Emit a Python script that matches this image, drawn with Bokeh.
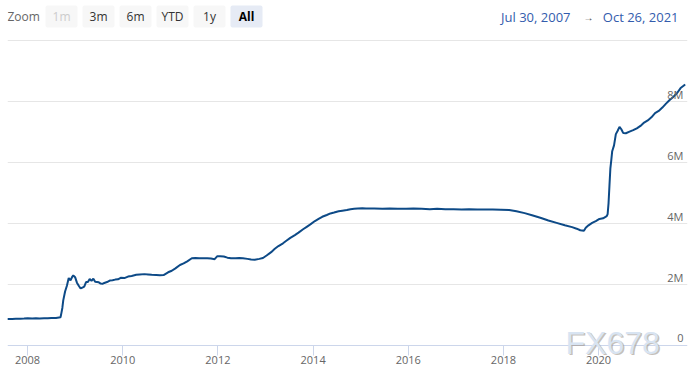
import pandas as pd
from bokeh.plotting import figure
from bokeh.models import Range1d, FixedTicker, DatetimeTickFormatter, Label, BoxAnnotation, ColumnDataSource
from bokeh.embed import file_html
from bokeh.resources import INLINE
from bokeh.core.properties import value

# ---------------- data (Fed balance sheet, millions USD) ----------------
dates = [
    "2007-07-30", "2007-09-05", "2007-10-03", "2007-11-07", "2007-12-05",
    "2008-01-02", "2008-02-06", "2008-03-05", "2008-04-02", "2008-05-07", "2008-06-04",
    "2008-07-02", "2008-08-06", "2008-09-10", "2008-09-17", "2008-09-24", "2008-10-01",
    "2008-10-15", "2008-10-29", "2008-11-12", "2008-11-26", "2008-12-10", "2008-12-17",
    "2008-12-31", "2009-01-14", "2009-01-28", "2009-02-11", "2009-02-25", "2009-03-11",
    "2009-03-25", "2009-04-08", "2009-04-22", "2009-05-06", "2009-05-20", "2009-06-03",
    "2009-06-17", "2009-07-01", "2009-07-15", "2009-07-29", "2009-08-12", "2009-09-02",
    "2009-09-23", "2009-10-14", "2009-11-04", "2009-11-25", "2009-12-16",
    "2010-01-13", "2010-02-10", "2010-03-10", "2010-04-14", "2010-05-12", "2010-06-16",
    "2010-07-14", "2010-08-11", "2010-09-15", "2010-10-13", "2010-11-10", "2010-12-15",
    "2011-01-12", "2011-02-09", "2011-03-16", "2011-04-13", "2011-05-11", "2011-06-15",
    "2011-07-13", "2011-08-10", "2011-09-14", "2011-10-12", "2011-11-09", "2011-12-07",
    "2011-12-28", "2012-01-18", "2012-02-15", "2012-03-14", "2012-04-11", "2012-05-16",
    "2012-06-13", "2012-07-11", "2012-08-15", "2012-09-12", "2012-10-10", "2012-11-14",
    "2012-12-12", "2013-01-09", "2013-02-13", "2013-03-13", "2013-04-10", "2013-05-15",
    "2013-06-12", "2013-07-10", "2013-08-14", "2013-09-11", "2013-10-16", "2013-11-13",
    "2013-12-11", "2014-01-15", "2014-02-12", "2014-03-12", "2014-04-16", "2014-05-14",
    "2014-06-11", "2014-07-16", "2014-08-13", "2014-09-17", "2014-10-15", "2014-11-12",
    "2014-12-10", "2015-01-14", "2015-02-11", "2015-04-15", "2015-06-17", "2015-08-12",
    "2015-10-14", "2015-12-16", "2016-02-10", "2016-04-13", "2016-06-15", "2016-08-10",
    "2016-10-12", "2016-12-14", "2017-02-15", "2017-04-12", "2017-06-14", "2017-08-16",
    "2017-10-11", "2017-12-13", "2018-02-14", "2018-04-11", "2018-06-13", "2018-08-15",
    "2018-10-17", "2018-12-12", "2019-02-13", "2019-04-17", "2019-06-12", "2019-07-17",
    "2019-08-14", "2019-09-11", "2019-09-25", "2019-10-16", "2019-11-13", "2019-12-11",
    "2020-01-08", "2020-02-05", "2020-03-04", "2020-03-11", "2020-03-18", "2020-03-25",
    "2020-04-01", "2020-04-08", "2020-04-15", "2020-04-29", "2020-05-13", "2020-05-27",
    "2020-06-10", "2020-06-24", "2020-07-08", "2020-07-29", "2020-08-26", "2020-09-23",
    "2020-10-21", "2020-11-18", "2020-12-16", "2021-01-13", "2021-02-10", "2021-03-10",
    "2021-04-07", "2021-05-05", "2021-06-02", "2021-06-30", "2021-07-28", "2021-08-25",
    "2021-09-22", "2021-10-20", "2021-10-26",
]
values = [
    869000, 872000, 880000, 878000, 885000,
    895000, 888000, 890000, 885000, 890000, 892000,
    898000, 902000, 926000, 1070000, 1230000, 1480000,
    1770000, 1960000, 2210000, 2140000, 2260000, 2300000,
    2240000, 2060000, 1960000, 1870000, 1900000, 1930000,
    2080000, 2080000, 2180000, 2120000, 2190000, 2090000,
    2080000, 2070000, 2030000, 2020000, 2050000, 2080000,
    2130000, 2140000, 2160000, 2170000, 2220000,
    2210000, 2260000, 2280000, 2320000, 2330000, 2340000,
    2330000, 2320000, 2310000, 2300000, 2310000, 2400000,
    2450000, 2530000, 2640000, 2690000, 2760000, 2860000,
    2870000, 2860000, 2860000, 2860000, 2850000, 2830000,
    2930000, 2930000, 2920000, 2880000, 2860000, 2860000,
    2870000, 2860000, 2840000, 2820000, 2810000, 2840000,
    2870000, 2950000, 3060000, 3170000, 3260000, 3350000,
    3440000, 3530000, 3620000, 3700000, 3810000, 3890000,
    3970000, 4080000, 4150000, 4220000, 4280000, 4330000,
    4360000, 4400000, 4420000, 4440000, 4470000, 4480000,
    4490000, 4500000, 4490000, 4490000, 4480000, 4490000,
    4480000, 4480000, 4490000, 4480000, 4470000, 4480000,
    4470000, 4470000, 4460000, 4470000, 4460000, 4460000,
    4460000, 4450000, 4440000, 4400000, 4340000, 4260000,
    4180000, 4100000, 4020000, 3940000, 3880000, 3830000,
    3780000, 3760000, 3860000, 3940000, 4020000, 4080000,
    4150000, 4170000, 4240000, 4310000, 4670000, 5250000,
    5810000, 6080000, 6370000, 6560000, 6930000, 7040000,
    7170000, 7090000, 6970000, 6960000, 7010000, 7060000,
    7120000, 7200000, 7310000, 7380000, 7480000, 7620000,
    7690000, 7800000, 7930000, 8050000, 8150000, 8270000,
    8440000, 8530000, 8560000,
]
x_tick_years = [2008, 2010, 2012, 2014, 2016, 2018, 2020]
y_ticks = [0, 2000000, 4000000, 6000000, 8000000]
y_tick_labels = ["0", "2M", "4M", "6M", "8M"]
y_grid_ticks = [2000000, 4000000, 6000000, 8000000, 10000000]
range_buttons = ["1m", "3m", "6m", "YTD", "1y", "All"]
range_start_text = "Jul 30, 2007"
range_end_text = "Oct 26, 2021"
watermark_text = "FX678"

FONT = "Open Sans"

x_start = pd.Timestamp("2007-07-31")
x_end = pd.Timestamp("2021-11-14")

src = ColumnDataSource(dict(date=pd.to_datetime(dates), val=values))

W, H = 693, 378
p = figure(width=W, height=H, x_axis_type="datetime", y_axis_location=None,
           output_backend="svg", toolbar_location=None,
           x_range=Range1d(x_start, x_end), y_range=Range1d(-1082000, 11311000),
           min_border_left=7, min_border_right=6, min_border_top=0, min_border_bottom=0)
p.outline_line_color = None
p.background_fill_color = "white"
p.border_fill_color = "white"

# grid
p.xgrid.visible = False
p.ygrid.ticker = FixedTicker(ticks=y_grid_ticks)
p.ygrid.grid_line_color = "#e6e6e6"
p.ygrid.grid_line_width = 1

# x axis placed at value 0 inside the frame
p.xaxis.fixed_location = 0
p.xaxis.ticker = FixedTicker(ticks=[pd.Timestamp(f"{y}-01-01").value / 1e6 for y in x_tick_years])
fmt = "%Y"
p.xaxis.formatter = DatetimeTickFormatter(years=fmt, months=fmt, days=fmt, hours=fmt,
                                          minutes=fmt, seconds=fmt, milliseconds=fmt,
                                          microseconds=fmt, hourmin=fmt, minsec=fmt)
p.xaxis.axis_line_color = "#ccd6eb"
p.xaxis.major_tick_line_color = "#ccd6eb"
p.xaxis.major_tick_out = 10
p.xaxis.major_tick_in = 0
p.xaxis.minor_tick_line_color = None
p.xaxis.major_label_text_color = "#666666"
p.xaxis.major_label_text_font = FONT
p.xaxis.major_label_text_font_size = "11px"
p.xaxis.major_label_standoff = 1

# line
p.line("date", "val", source=src, line_color="#0d4a87", line_width=2)

# y labels inside, right side
p.text(x=[x_end] * len(y_ticks), y=y_ticks, text=y_tick_labels,
       text_align="right", text_baseline="middle", x_offset=-4, y_offset=-7,
       text_font=value(FONT), text_font_size="11px", text_color="#666666")

# watermark (screen coords: origin at frame bottom-left = page (7, 378))
wm_x, wm_y = 565 - 7, 378 - 342
p.add_layout(Label(x=wm_x + 1.5, y=wm_y - 1.5, x_units="screen", y_units="screen", text=watermark_text,
                   text_font="Liberation Sans", text_font_size="32px", text_color="#a0948a",
                   text_alpha=0.6, text_baseline="middle", text_align="left"))
p.add_layout(Label(x=wm_x, y=wm_y, x_units="screen", y_units="screen", text=watermark_text,
                   text_font="Liberation Sans", text_font_size="32px", text_color="#d8e4f2",
                   text_baseline="middle", text_align="left"))

# range selector (top)
ty = 378 - 16
btn_bottom, btn_top = 378 - 27, 378 - 5
p.add_layout(Label(x=0, y=ty, x_units="screen", y_units="screen", text="Zoom",
                   text_font=FONT, text_font_size="12px", text_color="#666666",
                   text_baseline="middle", text_align="left"))
for i, lab in enumerate(range_buttons):
    left = 38 + 37 * i
    sel = lab == "All"
    p.add_layout(BoxAnnotation(left=left, right=left + 32, bottom=btn_bottom, top=btn_top,
                               left_units="screen", right_units="screen",
                               bottom_units="screen", top_units="screen",
                               fill_color="#e6ebf5" if sel else "#f7f7f7", fill_alpha=1,
                               line_color=None, border_radius=2, level="overlay"))
    p.add_layout(Label(x=left + 16, y=ty, x_units="screen", y_units="screen", text=lab,
                       text_font=FONT, text_font_size="12px",
                       text_font_style="bold" if sel else "normal",
                       text_color="#cccccc" if lab == "1m" else ("#000000" if sel else "#333333"),
                       text_baseline="middle", text_align="center", level="overlay"))

p.add_layout(Label(x=563, y=ty, x_units="screen", y_units="screen", text=range_start_text,
                   text_font=FONT, text_font_size="13px", text_color="#335cad",
                   text_baseline="middle", text_align="right"))
p.add_layout(Label(x=581, y=ty, x_units="screen", y_units="screen", text="\u2192",
                   text_font=FONT, text_font_size="10px", text_color="#444444",
                   text_baseline="middle", text_align="center"))
p.add_layout(Label(x=671, y=ty, x_units="screen", y_units="screen", text=range_end_text,
                   text_font=FONT, text_font_size="13px", text_color="#335cad",
                   text_baseline="middle", text_align="right"))

open("out.html", "w").write(file_html(p, INLINE))
